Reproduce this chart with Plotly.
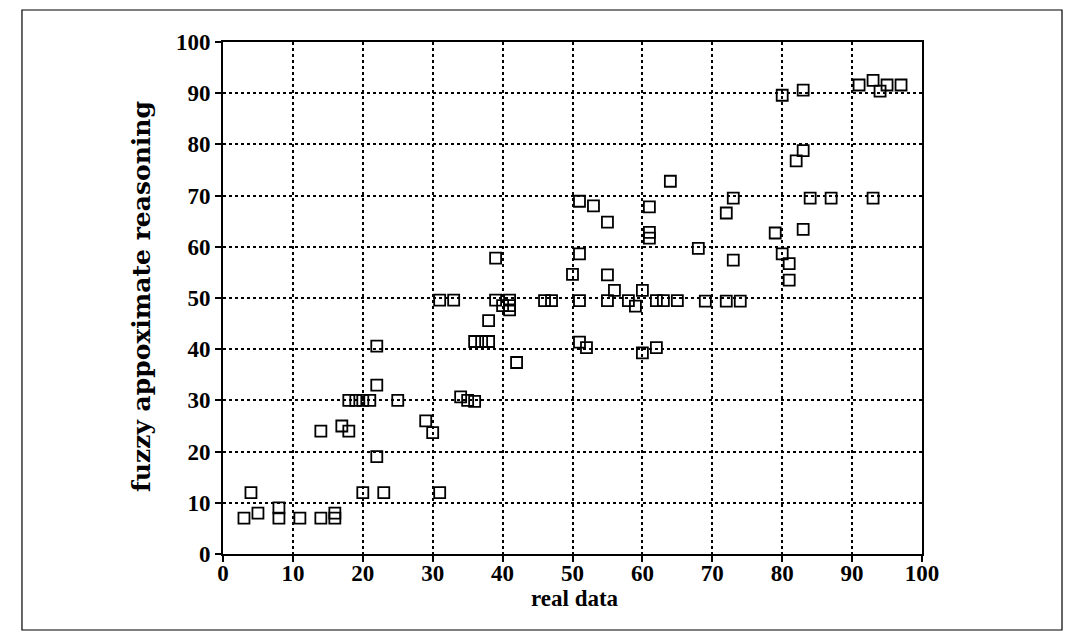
import plotly.graph_objects as go

real_data = [3, 4, 5, 8, 8, 11, 14, 16, 16,
             14, 17, 18, 18, 19, 20, 21, 22, 22, 22, 20, 23, 25,
             29, 30, 31, 31, 33, 34, 35, 36,
             36, 37, 38, 38, 39, 39, 40, 41, 41, 41, 42, 46, 47,
             50, 51, 51, 51, 51, 52, 53, 55, 55, 55, 56, 58, 59, 60, 60,
             61, 61, 61, 62, 62, 63, 65, 64,
             68, 69, 72, 72, 73, 73, 74,
             79, 80, 80, 81, 81, 82, 83, 83, 83, 84, 87,
             91, 93, 94, 95, 97, 93]
fuzzy_reasoning = [7, 12, 8, 9, 7, 7, 7, 8, 7,
                   24, 25, 24, 30, 30, 30, 30, 33, 40.6, 19, 12, 12, 30,
                   26, 23.7, 12, 49.6, 49.6, 30.7, 30, 29.8,
                   41.5, 41.5, 41.5, 45.6, 57.8, 49.6, 48.5, 49.6, 48.5, 47.7, 37.4, 49.5, 49.5,
                   54.6, 68.9, 58.6, 49.5, 41.4, 40.3, 68, 64.8, 54.5, 49.5, 51.5, 49.5, 48.4, 51.5, 39.3,
                   67.8, 62.8, 61.7, 40.3, 49.5, 49.5, 49.5, 72.8,
                   59.7, 49.4, 66.6, 49.4, 69.5, 57.4, 49.4,
                   62.7, 89.6, 58.6, 56.7, 53.5, 76.8, 78.8, 90.6, 63.4, 69.5, 69.5,
                   91.6, 92.5, 90.4, 91.6, 91.6, 69.5]

tick_vals = list(range(0, 101, 10))
x_title = "real data"
y_title = "fuzzy appoximate reasoning"

fig = go.Figure()
fig.add_trace(go.Scatter(
    x=real_data, y=fuzzy_reasoning, mode="markers",
    marker=dict(symbol="square-open", size=11, color="black",
                line=dict(color="black", width=1.8)),
    showlegend=False,
))

font_family = "Liberation Serif, Times New Roman, serif"
axis_common = dict(
    range=[0, 100], tickmode="array", tickvals=tick_vals,
    ticktext=[str(v) for v in tick_vals],
    showgrid=True, gridcolor="black", griddash="dot", gridwidth=1.5,
    showline=True, linecolor="black", linewidth=2, mirror=True,
    ticks="outside", ticklen=6, tickwidth=2, tickcolor="black",
    zeroline=False,
    tickfont=dict(family=font_family, size=23, color="black", weight="bold"),
)

fig.update_layout(
    width=1085, height=643,
    margin=dict(l=215, r=171, t=34, b=97),
    paper_bgcolor="white", plot_bgcolor="white",
    xaxis=dict(**axis_common, ticklabelstandoff=-9),
    yaxis=dict(**axis_common),
    shapes=[dict(type="rect", xref="paper", yref="paper",
                 x0=-0.2876, x1=1.2003, y0=-0.1484, y1=1.0625,
                 line=dict(color="black", width=1.2), fillcolor="rgba(0,0,0,0)",
                 layer="below")],
    annotations=[
        dict(text=x_title, xref="paper", yref="paper", x=0.503, y=-0.0869,
             xanchor="center", yanchor="middle", showarrow=False,
             font=dict(family=font_family, size=23, color="black", weight="bold")),
        dict(text=y_title, xref="paper", yref="paper", x=-0.1159, y=0.504,
             xanchor="center", yanchor="middle", showarrow=False, textangle=-90,
             font=dict(family="DejaVu Serif, serif", size=25, color="black", weight="bold")),
    ],
)

fig.write_html("out.html")
